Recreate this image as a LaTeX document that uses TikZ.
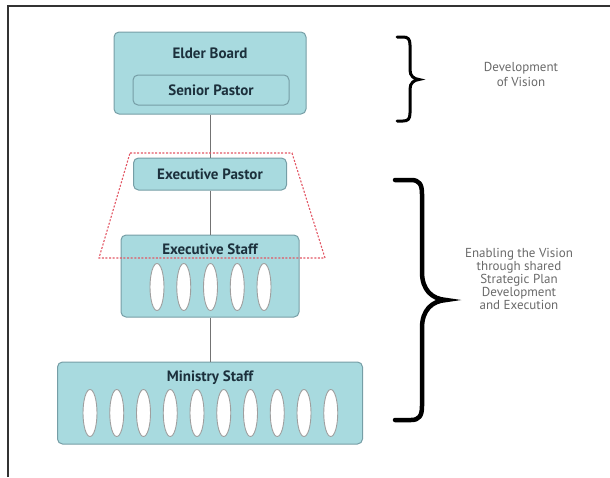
\documentclass[tikz,border=0pt]{standalone}
\usepackage{fontspec}
\setmainfont{PT Sans}
\usepackage{tikz}
\usetikzlibrary{shapes,positioning}

\definecolor{tierfill}{RGB}{168,218,223}
\definecolor{tierline}{RGB}{118,158,166}
\definecolor{tiertext}{RGB}{28,48,60}
\definecolor{notegray}{RGB}{105,105,105}
\definecolor{zonered}{RGB}{226,86,100}

\tikzset{
  tier/.style={draw=tierline,fill=tierfill,line width=1pt,rounded corners=5pt,inner sep=0pt},
  tiername/.style={font=\fontsize{15}{15}\selectfont\bfseries,text=tiertext,inner sep=0pt},
  slot/.style={ellipse,draw=gray!75,fill=white,line width=0.9pt,minimum width=14,minimum height=47,inner sep=0pt},
  note/.style={font=\fontsize{13}{#1}\selectfont,text=notegray,align=center,inner sep=0pt},
  curly/.style={line width=3pt,line cap=round}
}

\begin{document}
\begin{tikzpicture}[x=1pt,y=-1pt]
\useasboundingbox (0,0) rectangle (610,477);

%: \slotrow{<name>}{<count>}{<first x>}{<y>}
\newcommand{\slotrow}[4]{%
  \foreach \k in {1,...,#2}
    \node[slot] (#1\k) at ({#3+26.75*(\k-1)},#4) {};}

% frame, only top and left survive
\draw[line width=1.5pt,black!80] (8,477) -- (8,6) -- (610,6);

% the tiers
\node[tier,minimum width=192,minimum height=82] (elder) at (210,73) {};
\node[tiername,below=16pt of elder.north] (eldername) {Elder Board};
\node[tier,tiername,minimum width=156,minimum height=30] (senior) at (211,90) {Senior Pastor};
\node[tier,tiername,minimum width=153,minimum height=32] (execpastor) at (210,174) {Executive Pastor};
\node[tier,minimum width=178,minimum height=82] (execstaff) at (210,276) {};
\node[tiername,below=9pt of execstaff.north] (execstaffname) {Executive Staff};
\node[tier,minimum width=305,minimum height=82] (ministry) at (210,403) {};
\node[tiername,below=9pt of ministry.north] (ministryname) {Ministry Staff};

\slotrow{es}{5}{157}{287}
\slotrow{ms}{10}{90}{413}

% reporting line
\draw[gray!90!black,line width=0.8pt] (elder) -- (execpastor) -- (execstaff) -- (ministry);

% executive zone
\draw[zonered,line width=1.1pt,dash pattern=on 2pt off 1.6pt]
  (130,153) -- (292,153) -- (325,258) -- (99,258) -- cycle;

% braces and notes
\coordinate (visiontop) at (397,37);
\coordinate (visionbot) at (397,121);
\coordinate (enabletop) at (395,180);
\coordinate (enablebot) at (395,420);
\draw[curly] (visiontop) -- (403,37) .. controls (408,37) and (410,39) .. (410,45)
  -- (410,70) .. controls (410,76) and (414,79) .. (419,79.5)
  .. controls (414,80) and (410,83) .. (410,89)
  -- (410,113) .. controls (410,119) and (408,121) .. (403,121) -- (visionbot);
\draw[curly,line width=4.5pt] (enabletop) -- (411,180) .. controls (419,180) and (422,184) .. (422,194)
  -- (422,272) .. controls (422,290) and (432,299) .. (446,300)
  .. controls (432,301) and (422,310) .. (422,328)
  -- (422,406) .. controls (422,416) and (419,420) .. (411,420) -- (enablebot);
\node[note=15] (visionnote) at (521,74) {Development\\of Vision};
\node[note=11] (enablenote) at (519,279) {Enabling the Vision\\through shared\\Strategic Plan\\Development\\and Execution};
\end{tikzpicture}
\end{document}
